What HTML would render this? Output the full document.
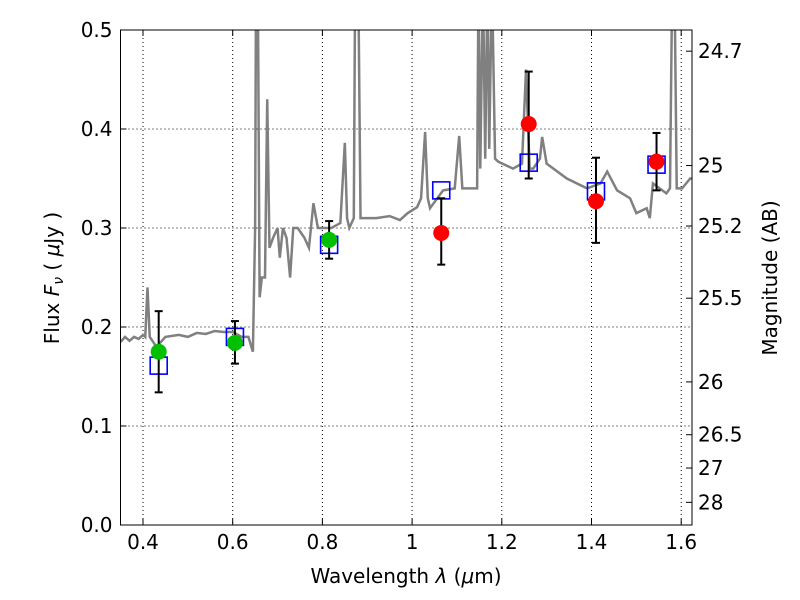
<!DOCTYPE html>
<html><head><meta charset="utf-8"><style>
body{margin:0;background:#fff}
svg{display:block;font-family:"DejaVu Sans","Liberation Sans",sans-serif}
</style></head><body>
<svg id="c" width="800" height="600"></svg>
<script>
const specLam=[0.35,0.36,0.37,0.38,0.39,0.4,0.405,0.41,0.415,0.43,0.45,0.48,0.5,0.52,0.54,0.56,0.58,0.6,0.62,0.635,0.645,0.65,0.652,0.656,0.66,0.665,0.672,0.677,0.682,0.69,0.70,0.705,0.712,0.72,0.728,0.735,0.745,0.76,0.77,0.78,0.79,0.80,0.82,0.84,0.85,0.855,0.86,0.87,0.873,0.88,0.885,0.89,0.92,0.95,0.973,0.99,1.011,1.02,1.029,1.035,1.04,1.069,1.095,1.105,1.112,1.118,1.145,1.148,1.152,1.158,1.163,1.168,1.172,1.178,1.185,1.192,1.225,1.245,1.254,1.262,1.27,1.285,1.29,1.30,1.345,1.39,1.42,1.435,1.457,1.486,1.5,1.523,1.53,1.537,1.567,1.575,1.58,1.585,1.59,1.602,1.62,1.63];
const specFlux=[0.185,0.19,0.186,0.19,0.188,0.192,0.19,0.24,0.19,0.18,0.19,0.192,0.19,0.194,0.193,0.196,0.195,0.195,0.19,0.19,0.175,0.3,0.55,0.55,0.23,0.25,0.25,0.43,0.28,0.29,0.3,0.27,0.3,0.29,0.25,0.3,0.30,0.29,0.28,0.325,0.30,0.30,0.3,0.305,0.386,0.31,0.30,0.31,0.55,0.55,0.31,0.31,0.31,0.312,0.308,0.315,0.321,0.33,0.397,0.33,0.32,0.338,0.34,0.393,0.34,0.34,0.34,0.55,0.36,0.55,0.37,0.55,0.38,0.55,0.37,0.367,0.36,0.365,0.46,0.36,0.36,0.37,0.392,0.365,0.35,0.34,0.345,0.357,0.338,0.33,0.315,0.32,0.31,0.345,0.335,0.34,0.55,0.55,0.34,0.34,0.35,0.35];
const obsLam=[0.435,0.605,0.815,1.065,1.26,1.41,1.545];
const obsFlux=[0.175,0.184,0.288,0.295,0.405,0.327,0.367];
const errLo=[0.134,0.163,0.269,0.263,0.35,0.285,0.338];
const errHi=[0.216,0.206,0.307,0.33,0.458,0.371,0.396];
const obsColor=['#00c000','#00c000','#00c000','#ff0000','#ff0000','#ff0000','#ff0000'];
const modelFlux=[0.161,0.19,0.283,0.338,0.366,0.337,0.364];
const xTicks=[0.4,0.6,0.8,1.0,1.2,1.4,1.6];
const xTickLabels=['0.4','0.6','0.8','1','1.2','1.4','1.6'];
const yTicks=[0,0.1,0.2,0.3,0.4,0.5];
const yTickLabels=['0.0','0.1','0.2','0.3','0.4','0.5'];
const magTicks=[24.7,25,25.2,25.5,26,26.5,27,28];
const magLabels=['24.7','25','25.2','25.5','26','26.5','27','28'];

const L=120.5,R=692,T=30,B=525;
const x=v=>143+(v-0.4)*448.5;
const y=v=>B-(v-0)*(B-T)/0.5;
const svg=document.getElementById('c');
const NS='http://www.w3.org/2000/svg';
function mk(t,a,p){const e=document.createElementNS(NS,t);for(const k in a)e.setAttribute(k,a[k]);(p||svg).appendChild(e);return e;}
const clip=mk('clipPath',{id:'cp'});mk('rect',{x:L,y:T,width:R-L,height:B-T},clip);
xTicks.forEach(v=>{const g=mk('line',{x1:x(v),x2:x(v),y1:T,y2:B,stroke:'#000','stroke-width':1,'stroke-dasharray':'1,3'});
});
yTicks.forEach(v=>{const g=mk('line',{x1:L,x2:R,y1:y(v),y2:y(v),stroke:'#000','stroke-width':1,'stroke-dasharray':'1,3'});
});
const sp=mk('polyline',{points:specLam.map((l,i)=>x(l)+','+y(specFlux[i])).join(' '),fill:'none',stroke:'#808080','stroke-width':2.5,'clip-path':'url(#cp)'});

obsLam.forEach((l,i)=>{const r=mk('rect',{x:x(l)-8.5,y:y(modelFlux[i])-8.5,width:17,height:17,fill:'none',stroke:'#0000ff','stroke-width':1.6});
});
obsLam.forEach((l,i)=>{
const g=mk('g',{});
mk('line',{x1:x(l),x2:x(l),y1:y(errLo[i]),y2:y(errHi[i]),stroke:'#000','stroke-width':2},g);
mk('line',{x1:x(l)-4,x2:x(l)+4,y1:y(errLo[i]),y2:y(errLo[i]),stroke:'#000','stroke-width':2},g);
mk('line',{x1:x(l)-4,x2:x(l)+4,y1:y(errHi[i]),y2:y(errHi[i]),stroke:'#000','stroke-width':2},g);
const c=mk('circle',{cx:x(l),cy:y(obsFlux[i]),r:8,fill:obsColor[i]});
});
const fr=mk('rect',{x:L,y:T,width:R-L,height:B-T,fill:'none',stroke:'#000','stroke-width':1});

xTicks.forEach((v,i)=>{mk('line',{x1:x(v),x2:x(v),y1:B,y2:B-6,stroke:'#000'});mk('line',{x1:x(v),x2:x(v),y1:T,y2:T+6,stroke:'#000'});
const t=mk('text',{x:x(v),y:B+24,'text-anchor':'middle','font-size':20});t.textContent=xTickLabels[i];
});
yTicks.forEach((v,i)=>{mk('line',{x1:L,x2:L+6,y1:y(v),y2:y(v),stroke:'#000'});
const t=mk('text',{x:L-8,y:y(v)+7,'text-anchor':'end','font-size':20});t.textContent=yTickLabels[i];
});
magTicks.forEach((m,i)=>{const f=Math.pow(10,(23.9-m)/2.5);const yy=y(f);
mk('line',{x1:R,x2:R-6,y1:yy,y2:yy,stroke:'#000'});
const t=mk('text',{x:R+6,y:yy+7,'font-size':20});t.textContent=magLabels[i];
});
const xt=mk('text',{x:406,y:583,'text-anchor':'middle','font-size':20});
xt.innerHTML='Wavelength  <tspan font-style="italic">λ</tspan> (<tspan font-style="italic">μ</tspan>m)';

const yt=mk('text',{x:0,y:0,'text-anchor':'middle','font-size':20,transform:'translate(59,278) rotate(-90)'});
yt.setAttribute('xml:space','preserve');
yt.innerHTML='Flux  <tspan font-style="italic">F</tspan><tspan font-style="italic" font-size="14" dy="4">ν</tspan><tspan dy="-4">  ( </tspan><tspan font-style="italic">μ</tspan>Jy )';

const rt=mk('text',{x:0,y:0,'text-anchor':'middle','font-size':20,transform:'translate(777,278) rotate(-90)'});
rt.textContent='Magnitude (AB)';

</script>
</body></html>
